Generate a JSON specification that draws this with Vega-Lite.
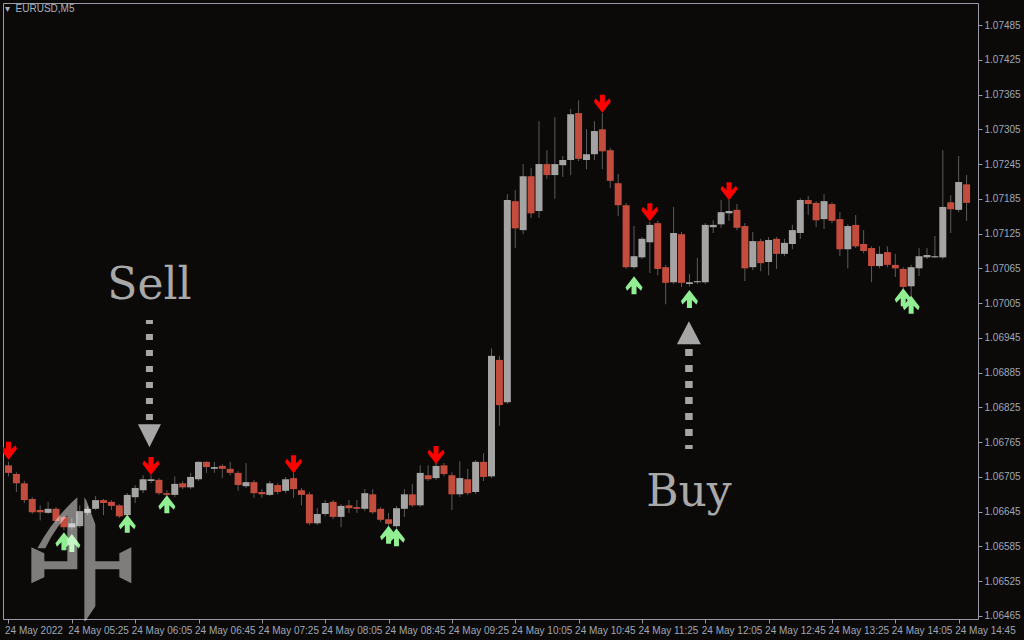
{
  "$schema": "https://vega.github.io/schema/vega-lite/v6.json",
  "width": 975,
  "height": 616,
  "autosize": {"type": "none"},
  "padding": {"left": 3, "top": 3, "right": 46, "bottom": 21},
  "background": "#0c0a08",
  "config": {
    "view": {"stroke": "#9a9aa8", "strokeWidth": 1},
    "font": "Liberation Sans",
    "axisY": {"orient": "right", "format": ".5f", "labelColor": "#9ea7b8", "labelFont": "Liberation Sans", "labelFontSize": 10,
      "tickSize": 4, "tickColor": "#9a9aa8", "labelPadding": 2, "domain": false, "grid": false, "title": null,
      "labelFlush": false, "labelOverlap": false, "labelBound": false}
  },
  "title": {"text": "▾\u00a0\u00a0EURUSD,M5", "anchor": "start", "frame": "group", "offset": 0, "dy": 16, "dx": 2, "baseline": "middle", "fontSize": 10, "font": "Liberation Sans", "fontWeight": "normal", "color": "#a8b0c0"},
  "datasets": {
    "candles": [
      {"t":"2022-05-24T04:45:00Z","o":1.06725,"h":1.06731,"l":1.06706,"c":1.06712},
      {"t":"2022-05-24T04:50:00Z","o":1.06710,"h":1.06713,"l":1.06679,"c":1.06694},
      {"t":"2022-05-24T04:55:00Z","o":1.06694,"h":1.06698,"l":1.06660,"c":1.06665},
      {"t":"2022-05-24T05:00:00Z","o":1.06667,"h":1.06670,"l":1.06641,"c":1.06644},
      {"t":"2022-05-24T05:05:00Z","o":1.06648,"h":1.06656,"l":1.06630,"c":1.06644},
      {"t":"2022-05-24T05:10:00Z","o":1.06643,"h":1.06662,"l":1.06641,"c":1.06650},
      {"t":"2022-05-24T05:15:00Z","o":1.06650,"h":1.06653,"l":1.06625,"c":1.06629},
      {"t":"2022-05-24T05:20:00Z","o":1.06636,"h":1.06639,"l":1.06613,"c":1.06618},
      {"t":"2022-05-24T05:25:00Z","o":1.06618,"h":1.06634,"l":1.06613,"c":1.06625},
      {"t":"2022-05-24T05:30:00Z","o":1.06620,"h":1.06656,"l":1.06617,"c":1.06646},
      {"t":"2022-05-24T05:35:00Z","o":1.06643,"h":1.06655,"l":1.06639,"c":1.06650},
      {"t":"2022-05-24T05:40:00Z","o":1.06650,"h":1.06672,"l":1.06648,"c":1.06665},
      {"t":"2022-05-24T05:45:00Z","o":1.06665,"h":1.06667,"l":1.06639,"c":1.06660},
      {"t":"2022-05-24T05:50:00Z","o":1.06662,"h":1.06665,"l":1.06648,"c":1.06655},
      {"t":"2022-05-24T05:55:00Z","o":1.06656,"h":1.06658,"l":1.06634,"c":1.06637},
      {"t":"2022-05-24T06:00:00Z","o":1.06639,"h":1.06677,"l":1.06636,"c":1.06674},
      {"t":"2022-05-24T06:05:00Z","o":1.06670,"h":1.06691,"l":1.06660,"c":1.06686},
      {"t":"2022-05-24T06:10:00Z","o":1.06682,"h":1.06708,"l":1.06677,"c":1.06701},
      {"t":"2022-05-24T06:15:00Z","o":1.06698,"h":1.06708,"l":1.06694,"c":1.06701},
      {"t":"2022-05-24T06:20:00Z","o":1.06700,"h":1.06703,"l":1.06674,"c":1.06677},
      {"t":"2022-05-24T06:25:00Z","o":1.06677,"h":1.06682,"l":1.06669,"c":1.06674},
      {"t":"2022-05-24T06:30:00Z","o":1.06674,"h":1.06706,"l":1.06670,"c":1.06693},
      {"t":"2022-05-24T06:35:00Z","o":1.06694,"h":1.06698,"l":1.06684,"c":1.06687},
      {"t":"2022-05-24T06:40:00Z","o":1.06687,"h":1.06712,"l":1.06684,"c":1.06705},
      {"t":"2022-05-24T06:45:00Z","o":1.06701,"h":1.06732,"l":1.06698,"c":1.06731},
      {"t":"2022-05-24T06:50:00Z","o":1.06731,"h":1.06732,"l":1.06712,"c":1.06722},
      {"t":"2022-05-24T06:55:00Z","o":1.06719,"h":1.06731,"l":1.06712,"c":1.06722},
      {"t":"2022-05-24T07:00:00Z","o":1.06724,"h":1.06727,"l":1.06703,"c":1.06719},
      {"t":"2022-05-24T07:05:00Z","o":1.06719,"h":1.06731,"l":1.06708,"c":1.06712},
      {"t":"2022-05-24T07:10:00Z","o":1.06712,"h":1.06715,"l":1.06681,"c":1.06691},
      {"t":"2022-05-24T07:15:00Z","o":1.06689,"h":1.06729,"l":1.06686,"c":1.06696},
      {"t":"2022-05-24T07:20:00Z","o":1.06696,"h":1.06700,"l":1.06669,"c":1.06677},
      {"t":"2022-05-24T07:25:00Z","o":1.06679,"h":1.06684,"l":1.06669,"c":1.06675},
      {"t":"2022-05-24T07:30:00Z","o":1.06674,"h":1.06698,"l":1.06672,"c":1.06694},
      {"t":"2022-05-24T07:35:00Z","o":1.06691,"h":1.06694,"l":1.06675,"c":1.06679},
      {"t":"2022-05-24T07:40:00Z","o":1.06681,"h":1.06705,"l":1.06677,"c":1.06701},
      {"t":"2022-05-24T07:45:00Z","o":1.06703,"h":1.06712,"l":1.06669,"c":1.06684},
      {"t":"2022-05-24T07:50:00Z","o":1.06682,"h":1.06686,"l":1.06656,"c":1.06674},
      {"t":"2022-05-24T07:55:00Z","o":1.06675,"h":1.06679,"l":1.06622,"c":1.06625},
      {"t":"2022-05-24T08:00:00Z","o":1.06625,"h":1.06651,"l":1.06622,"c":1.06641},
      {"t":"2022-05-24T08:05:00Z","o":1.06641,"h":1.06665,"l":1.06637,"c":1.06660},
      {"t":"2022-05-24T08:10:00Z","o":1.06662,"h":1.06665,"l":1.06632,"c":1.06636},
      {"t":"2022-05-24T08:15:00Z","o":1.06636,"h":1.06658,"l":1.06618,"c":1.06655},
      {"t":"2022-05-24T08:20:00Z","o":1.06656,"h":1.06665,"l":1.06643,"c":1.06651},
      {"t":"2022-05-24T08:25:00Z","o":1.06653,"h":1.06665,"l":1.06643,"c":1.06650},
      {"t":"2022-05-24T08:30:00Z","o":1.06650,"h":1.06684,"l":1.06646,"c":1.06677},
      {"t":"2022-05-24T08:35:00Z","o":1.06675,"h":1.06684,"l":1.06641,"c":1.06644},
      {"t":"2022-05-24T08:40:00Z","o":1.06650,"h":1.06653,"l":1.06627,"c":1.06631},
      {"t":"2022-05-24T08:45:00Z","o":1.06632,"h":1.06643,"l":1.06620,"c":1.06624},
      {"t":"2022-05-24T08:50:00Z","o":1.06620,"h":1.06655,"l":1.06617,"c":1.06651},
      {"t":"2022-05-24T08:55:00Z","o":1.06650,"h":1.06684,"l":1.06636,"c":1.06675},
      {"t":"2022-05-24T09:00:00Z","o":1.06675,"h":1.06693,"l":1.06653,"c":1.06656},
      {"t":"2022-05-24T09:05:00Z","o":1.06656,"h":1.06725,"l":1.06653,"c":1.06712},
      {"t":"2022-05-24T09:10:00Z","o":1.06708,"h":1.06725,"l":1.06698,"c":1.06701},
      {"t":"2022-05-24T09:15:00Z","o":1.06703,"h":1.06729,"l":1.06700,"c":1.06724},
      {"t":"2022-05-24T09:20:00Z","o":1.06725,"h":1.06729,"l":1.06706,"c":1.06710},
      {"t":"2022-05-24T09:25:00Z","o":1.06708,"h":1.06713,"l":1.06648,"c":1.06675},
      {"t":"2022-05-24T09:30:00Z","o":1.06675,"h":1.06732,"l":1.06670,"c":1.06703},
      {"t":"2022-05-24T09:35:00Z","o":1.06701,"h":1.06719,"l":1.06674,"c":1.06677},
      {"t":"2022-05-24T09:40:00Z","o":1.06679,"h":1.06734,"l":1.06675,"c":1.06731},
      {"t":"2022-05-24T09:45:00Z","o":1.06731,"h":1.06746,"l":1.06698,"c":1.06705},
      {"t":"2022-05-24T09:50:00Z","o":1.06706,"h":1.06927,"l":1.06703,"c":1.06914},
      {"t":"2022-05-24T09:55:00Z","o":1.06907,"h":1.06914,"l":1.06793,"c":1.06829},
      {"t":"2022-05-24T10:00:00Z","o":1.06834,"h":1.07193,"l":1.06831,"c":1.07183},
      {"t":"2022-05-24T10:05:00Z","o":1.07181,"h":1.07200,"l":1.07100,"c":1.07134},
      {"t":"2022-05-24T10:10:00Z","o":1.07131,"h":1.07245,"l":1.07124,"c":1.07224},
      {"t":"2022-05-24T10:15:00Z","o":1.07224,"h":1.07238,"l":1.07152,"c":1.07160},
      {"t":"2022-05-24T10:20:00Z","o":1.07164,"h":1.07319,"l":1.07152,"c":1.07245},
      {"t":"2022-05-24T10:25:00Z","o":1.07245,"h":1.07269,"l":1.07219,"c":1.07226},
      {"t":"2022-05-24T10:30:00Z","o":1.07226,"h":1.07326,"l":1.07185,"c":1.07245},
      {"t":"2022-05-24T10:35:00Z","o":1.07243,"h":1.07259,"l":1.07223,"c":1.07252},
      {"t":"2022-05-24T10:40:00Z","o":1.07252,"h":1.07340,"l":1.07226,"c":1.07331},
      {"t":"2022-05-24T10:45:00Z","o":1.07333,"h":1.07355,"l":1.07250,"c":1.07254},
      {"t":"2022-05-24T10:50:00Z","o":1.07252,"h":1.07305,"l":1.07236,"c":1.07262},
      {"t":"2022-05-24T10:55:00Z","o":1.07262,"h":1.07319,"l":1.07252,"c":1.07302},
      {"t":"2022-05-24T11:00:00Z","o":1.07305,"h":1.07333,"l":1.07236,"c":1.07267},
      {"t":"2022-05-24T11:05:00Z","o":1.07269,"h":1.07273,"l":1.07204,"c":1.07216},
      {"t":"2022-05-24T11:10:00Z","o":1.07212,"h":1.07228,"l":1.07155,"c":1.07174},
      {"t":"2022-05-24T11:15:00Z","o":1.07174,"h":1.07178,"l":1.07064,"c":1.07067},
      {"t":"2022-05-24T11:20:00Z","o":1.07067,"h":1.07138,"l":1.07064,"c":1.07086},
      {"t":"2022-05-24T11:25:00Z","o":1.07084,"h":1.07119,"l":1.07081,"c":1.07116},
      {"t":"2022-05-24T11:30:00Z","o":1.07110,"h":1.07145,"l":1.07057,"c":1.07140},
      {"t":"2022-05-24T11:35:00Z","o":1.07143,"h":1.07147,"l":1.07053,"c":1.07064},
      {"t":"2022-05-24T11:40:00Z","o":1.07067,"h":1.07071,"l":1.07003,"c":1.07040},
      {"t":"2022-05-24T11:45:00Z","o":1.07041,"h":1.07171,"l":1.07038,"c":1.07126},
      {"t":"2022-05-24T11:50:00Z","o":1.07124,"h":1.07128,"l":1.07033,"c":1.07040},
      {"t":"2022-05-24T11:55:00Z","o":1.07038,"h":1.07055,"l":1.07034,"c":1.07041},
      {"t":"2022-05-24T12:00:00Z","o":1.07041,"h":1.07083,"l":1.07038,"c":1.07043},
      {"t":"2022-05-24T12:05:00Z","o":1.07041,"h":1.07143,"l":1.07038,"c":1.07140},
      {"t":"2022-05-24T12:10:00Z","o":1.07136,"h":1.07148,"l":1.07126,"c":1.07140},
      {"t":"2022-05-24T12:15:00Z","o":1.07141,"h":1.07183,"l":1.07135,"c":1.07162},
      {"t":"2022-05-24T12:20:00Z","o":1.07160,"h":1.07183,"l":1.07147,"c":1.07164},
      {"t":"2022-05-24T12:25:00Z","o":1.07166,"h":1.07176,"l":1.07131,"c":1.07135},
      {"t":"2022-05-24T12:30:00Z","o":1.07138,"h":1.07143,"l":1.07043,"c":1.07065},
      {"t":"2022-05-24T12:35:00Z","o":1.07067,"h":1.07128,"l":1.07062,"c":1.07112},
      {"t":"2022-05-24T12:40:00Z","o":1.07112,"h":1.07116,"l":1.07060,"c":1.07074},
      {"t":"2022-05-24T12:45:00Z","o":1.07076,"h":1.07119,"l":1.07053,"c":1.07114},
      {"t":"2022-05-24T12:50:00Z","o":1.07116,"h":1.07119,"l":1.07064,"c":1.07090},
      {"t":"2022-05-24T12:55:00Z","o":1.07090,"h":1.07116,"l":1.07086,"c":1.07109},
      {"t":"2022-05-24T13:00:00Z","o":1.07107,"h":1.07140,"l":1.07098,"c":1.07131},
      {"t":"2022-05-24T13:05:00Z","o":1.07126,"h":1.07186,"l":1.07116,"c":1.07183},
      {"t":"2022-05-24T13:10:00Z","o":1.07183,"h":1.07190,"l":1.07157,"c":1.07176},
      {"t":"2022-05-24T13:15:00Z","o":1.07178,"h":1.07181,"l":1.07136,"c":1.07148},
      {"t":"2022-05-24T13:20:00Z","o":1.07150,"h":1.07193,"l":1.07133,"c":1.07181},
      {"t":"2022-05-24T13:25:00Z","o":1.07176,"h":1.07179,"l":1.07143,"c":1.07147},
      {"t":"2022-05-24T13:30:00Z","o":1.07150,"h":1.07162,"l":1.07086,"c":1.07098},
      {"t":"2022-05-24T13:35:00Z","o":1.07098,"h":1.07141,"l":1.07065,"c":1.07138},
      {"t":"2022-05-24T13:40:00Z","o":1.07140,"h":1.07157,"l":1.07100,"c":1.07103},
      {"t":"2022-05-24T13:45:00Z","o":1.07107,"h":1.07131,"l":1.07091,"c":1.07095},
      {"t":"2022-05-24T13:50:00Z","o":1.07100,"h":1.07103,"l":1.07041,"c":1.07069},
      {"t":"2022-05-24T13:55:00Z","o":1.07069,"h":1.07103,"l":1.07065,"c":1.07090},
      {"t":"2022-05-24T14:00:00Z","o":1.07093,"h":1.07103,"l":1.07067,"c":1.07071},
      {"t":"2022-05-24T14:05:00Z","o":1.07071,"h":1.07090,"l":1.07050,"c":1.07065},
      {"t":"2022-05-24T14:10:00Z","o":1.07064,"h":1.07067,"l":1.07029,"c":1.07033},
      {"t":"2022-05-24T14:15:00Z","o":1.07034,"h":1.07071,"l":1.07015,"c":1.07067},
      {"t":"2022-05-24T14:20:00Z","o":1.07065,"h":1.07100,"l":1.07052,"c":1.07086},
      {"t":"2022-05-24T14:25:00Z","o":1.07084,"h":1.07100,"l":1.07081,"c":1.07088},
      {"t":"2022-05-24T14:30:00Z","o":1.07084,"h":1.07121,"l":1.07083,"c":1.07086},
      {"t":"2022-05-24T14:35:00Z","o":1.07084,"h":1.07269,"l":1.07081,"c":1.07171},
      {"t":"2022-05-24T14:40:00Z","o":1.07179,"h":1.07191,"l":1.07126,"c":1.07167},
      {"t":"2022-05-24T14:45:00Z","o":1.07166,"h":1.07259,"l":1.07162,"c":1.07214},
      {"t":"2022-05-24T14:50:00Z","o":1.07210,"h":1.07226,"l":1.07147,"c":1.07178}
    ],
    "sells": [
      {"t":"2022-05-24T04:45:00Z","p":1.06750},
      {"t":"2022-05-24T06:15:00Z","p":1.06724},
      {"t":"2022-05-24T07:45:00Z","p":1.06727},
      {"t":"2022-05-24T09:15:00Z","p":1.06743},
      {"t":"2022-05-24T11:00:00Z","p":1.07349},
      {"t":"2022-05-24T11:30:00Z","p":1.07162},
      {"t":"2022-05-24T12:20:00Z","p":1.07198}
    ],
    "buys": [
      {"t":"2022-05-24T05:20:00Z","p":1.06594},
      {"t":"2022-05-24T05:25:00Z","p":1.06591},
      {"t":"2022-05-24T06:00:00Z","p":1.06624},
      {"t":"2022-05-24T06:25:00Z","p":1.06658},
      {"t":"2022-05-24T08:45:00Z","p":1.06605},
      {"t":"2022-05-24T08:50:00Z","p":1.06601},
      {"t":"2022-05-24T11:20:00Z","p":1.07036},
      {"t":"2022-05-24T11:55:00Z","p":1.07012},
      {"t":"2022-05-24T14:10:00Z","p":1.07015},
      {"t":"2022-05-24T14:15:00Z","p":1.07002}
    ],
    "notes": [
      {"t":"2022-05-24T06:14:00Z","p":1.07012,"txt":"Sell"},
      {"t":"2022-05-24T11:54:40Z","p":1.06655,"txt":"Buy"}
    ],
    "pointers": [
      {"t":"2022-05-24T06:14:00Z","p":1.06776,"dir":"down"},
      {"t":"2022-05-24T11:54:40Z","p":1.06954,"dir":"up"}
    ]
  },
  "encoding": {
    "x": {
      "field": "t", "type": "temporal",
      "scale": {"type": "utc", "nice": false, "domain": [
        {"year": 2022, "month": 5, "date": 24, "hours": 4, "minutes": 44, "seconds": 41, "milliseconds": 250, "utc": true},
        {"year": 2022, "month": 5, "date": 24, "hours": 14, "minutes": 54, "seconds": 3, "milliseconds": 750, "utc": true}
      ]},
      "axis": {
        "values": [
          {"year":2022,"month":5,"date":24,"hours":4,"minutes":45,"utc":true},
          {"year":2022,"month":5,"date":24,"hours":5,"minutes":25,"utc":true},
          {"year":2022,"month":5,"date":24,"hours":6,"minutes":5,"utc":true},
          {"year":2022,"month":5,"date":24,"hours":6,"minutes":45,"utc":true},
          {"year":2022,"month":5,"date":24,"hours":7,"minutes":25,"utc":true},
          {"year":2022,"month":5,"date":24,"hours":8,"minutes":5,"utc":true},
          {"year":2022,"month":5,"date":24,"hours":8,"minutes":45,"utc":true},
          {"year":2022,"month":5,"date":24,"hours":9,"minutes":25,"utc":true},
          {"year":2022,"month":5,"date":24,"hours":10,"minutes":5,"utc":true},
          {"year":2022,"month":5,"date":24,"hours":10,"minutes":45,"utc":true},
          {"year":2022,"month":5,"date":24,"hours":11,"minutes":25,"utc":true},
          {"year":2022,"month":5,"date":24,"hours":12,"minutes":5,"utc":true},
          {"year":2022,"month":5,"date":24,"hours":12,"minutes":45,"utc":true},
          {"year":2022,"month":5,"date":24,"hours":13,"minutes":25,"utc":true},
          {"year":2022,"month":5,"date":24,"hours":14,"minutes":5,"utc":true},
          {"year":2022,"month":5,"date":24,"hours":14,"minutes":45,"utc":true}
        ],
        "labelExpr": "utcFormat(datum.value, '%H:%M') == '04:45' ? '24 May 2022' : '24 May ' + utcFormat(datum.value, '%H:%M')",
        "labelAlign": "left", "labelPadding": 2, "labelOffset": -4, "tickSize": 4, "tickColor": "#9a9aa8",
        "labelColor": "#9ea7b8", "labelFont": "Liberation Sans", "labelFontSize": 10,
        "domain": false, "grid": false, "title": null, "labelFlush": false, "labelOverlap": false, "labelBound": false
      }
    }
  },
  "layer": [
    {
      "data": {"name": "candles"},
      "mark": {"type": "rule", "color": "#5c5c5c", "strokeWidth": 1, "clip": true},
      "encoding": {
        "y": {"field": "l", "type": "quantitative",
          "scale": {"domain": [1.064598, 1.07523], "nice": false, "zero": false},
          "axis": {"values": [1.06465,1.06525,1.06585,1.06645,1.06705,1.06765,1.06825,1.06885,1.06945,1.07005,1.07065,1.07125,1.07185,1.07245,1.07305,1.07365,1.07425,1.07485]}},
        "y2": {"field": "h"}
      }
    },
    {
      "data": {"name": "candles"},
      "mark": {"type": "bar", "size": 7, "clip": true},
      "encoding": {
        "y": {"field": "o", "type": "quantitative", "scale": {"domain": [1.064598, 1.07523], "nice": false, "zero": false},
          "axis": {"values": [1.06465,1.06525,1.06585,1.06645,1.06705,1.06765,1.06825,1.06885,1.06945,1.07005,1.07065,1.07125,1.07185,1.07245,1.07305,1.07365,1.07425,1.07485]}},
        "y2": {"field": "c"},
        "color": {"condition": {"test": "datum.c >= datum.o", "value": "#a4a4a4"}, "value": "#c44c3c"}
      }
    },
    {
      "data": {"name": "sells"},
      "mark": {"type": "point", "filled": true, "opacity": 1, "size": 4, "color": "#ff0000", "clip": true,
        "shape": "M-2.5,-9L2.5,-9L2.5,-1L7,-5.5L8.5,-2L0,9L-8.5,-2L-7,-5.5L-2.5,-1Z"},
      "encoding": {"y": {"field": "p", "type": "quantitative", "scale": {"domain": [1.064598, 1.07523], "nice": false, "zero": false},
        "axis": {"values": [1.06465,1.06525,1.06585,1.06645,1.06705,1.06765,1.06825,1.06885,1.06945,1.07005,1.07065,1.07125,1.07185,1.07245,1.07305,1.07365,1.07425,1.07485]}}}
    },
    {
      "data": {"name": "buys"},
      "mark": {"type": "point", "filled": true, "opacity": 1, "size": 4, "color": "#92ee92", "clip": true,
        "shape": "M-2.5,9L2.5,9L2.5,1L7,5.5L8.5,2L0,-9L-8.5,2L-7,5.5L-2.5,1Z"},
      "encoding": {"y": {"field": "p", "type": "quantitative", "scale": {"domain": [1.064598, 1.07523], "nice": false, "zero": false},
        "axis": {"values": [1.06465,1.06525,1.06585,1.06645,1.06705,1.06765,1.06825,1.06885,1.06945,1.07005,1.07065,1.07125,1.07185,1.07245,1.07305,1.07365,1.07425,1.07485]}}}
    },
    {
      "data": {"values": [{"t": "2022-05-24T06:14:00Z", "p": 1.06976, "p2": 1.06803}]},
      "mark": {"type": "rule", "color": "#a6a6a6", "strokeWidth": 7, "strokeDash": [6, 10], "strokeDashOffset": 2, "strokeCap": "butt"},
      "encoding": {
        "y": {"field": "p", "type": "quantitative", "scale": {"domain": [1.064598, 1.07523], "nice": false, "zero": false},
          "axis": {"values": [1.06465,1.06525,1.06585,1.06645,1.06705,1.06765,1.06825,1.06885,1.06945,1.07005,1.07065,1.07125,1.07185,1.07245,1.07305,1.07365,1.07425,1.07485]}},
        "y2": {"field": "p2"}
      }
    },
    {
      "data": {"values": [{"t": "2022-05-24T11:54:40Z", "p": 1.06926, "p2": 1.06753}]},
      "mark": {"type": "rule", "color": "#a6a6a6", "strokeWidth": 7.5, "strokeDash": [7, 9], "strokeDashOffset": 0, "strokeCap": "butt"},
      "encoding": {
        "y": {"field": "p", "type": "quantitative", "scale": {"domain": [1.064598, 1.07523], "nice": false, "zero": false},
          "axis": {"values": [1.06465,1.06525,1.06585,1.06645,1.06705,1.06765,1.06825,1.06885,1.06945,1.07005,1.07065,1.07125,1.07185,1.07245,1.07305,1.07365,1.07425,1.07485]}},
        "y2": {"field": "p2"}
      }
    },
    {
      "data": {"name": "pointers"},
      "mark": {"type": "point", "filled": true, "opacity": 1, "size": 4, "color": "#a6a6a6"},
      "encoding": {
        "y": {"field": "p", "type": "quantitative", "scale": {"domain": [1.064598, 1.07523], "nice": false, "zero": false},
          "axis": {"values": [1.06465,1.06525,1.06585,1.06645,1.06705,1.06765,1.06825,1.06885,1.06945,1.07005,1.07065,1.07125,1.07185,1.07245,1.07305,1.07365,1.07425,1.07485]}},
        "shape": {"field": "dir", "type": "nominal", "legend": null,
          "scale": {"domain": ["down", "up"], "range": ["M-11.5,-11.5L11.5,-11.5L0,11.5Z", "M-12,11.5L12,11.5L0,-11.5Z"]}}
      }
    },
    {
      "data": {"name": "notes"},
      "mark": {"type": "text", "font": "DejaVu Serif", "fontSize": 44, "color": "#a9a9a9", "align": "center", "baseline": "alphabetic"},
      "encoding": {
        "y": {"field": "p", "type": "quantitative", "scale": {"domain": [1.064598, 1.07523], "nice": false, "zero": false},
          "axis": {"values": [1.06465,1.06525,1.06585,1.06645,1.06705,1.06765,1.06825,1.06885,1.06945,1.07005,1.07065,1.07125,1.07185,1.07245,1.07305,1.07365,1.07425,1.07485]}},
        "text": {"field": "txt"}
      }
    },
    {
      "data": {"values": [{"t": "2022-05-24T05:31:00Z", "p": 1.06561}]},
      "mark": {"type": "point", "filled": true, "opacity": 0.47, "size": 4, "color": "#ffffff", "clip": false,
        "shape": "M3,-63L5,-60L14,-36L14,46L4,61L3,61Z M-44,-12Q-28,-42,-4,-63L-4,-54Q-24,-38,-36,-12Z M-14,-48L-4,-58L-4,9L-14,9Z M-37,1L-14,1L-14,9L-37,9Z M-50,-13L-37,-7L-37,17L-50,23Z M14,1L38,1L38,9L14,9Z M38,-7L50,-13L50,23L38,17Z"},
      "encoding": {"y": {"field": "p", "type": "quantitative", "scale": {"domain": [1.064598, 1.07523], "nice": false, "zero": false},
        "axis": {"values": [1.06465,1.06525,1.06585,1.06645,1.06705,1.06765,1.06825,1.06885,1.06945,1.07005,1.07065,1.07125,1.07185,1.07245,1.07305,1.07365,1.07425,1.07485]}}}
    }
  ]
}
